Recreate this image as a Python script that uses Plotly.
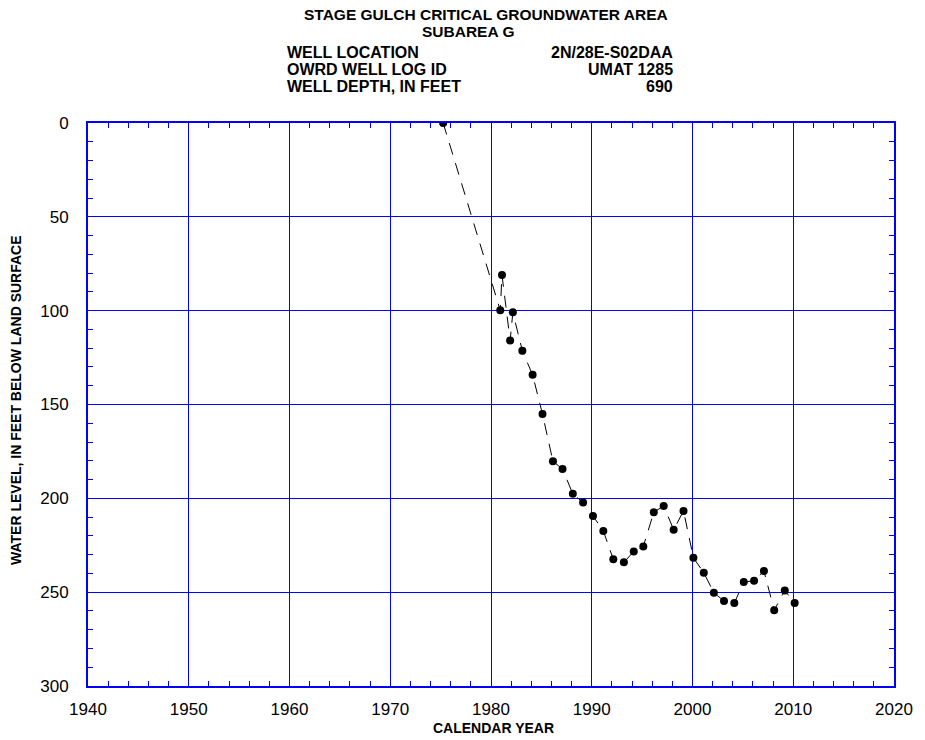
import plotly.graph_objects as go

# Data
years = [1975.25, 1980.92, 1981.09, 1981.90, 1982.17, 1983.11, 1984.13, 1985.11,
         1986.15, 1987.10, 1988.12, 1989.14, 1990.12, 1991.15, 1992.14, 1993.19,
         1994.17, 1995.12, 1996.16, 1997.14, 1998.13, 1999.11, 2000.09, 2001.12,
         2002.12, 2003.13, 2004.15, 2005.09, 2006.11, 2007.09, 2008.11, 2009.16,
         2010.14]
water_level = [0.0, 99.8, 81.0, 115.9, 100.9, 121.4, 134.2, 155.1,
               180.3, 184.4, 197.6, 202.2, 209.4, 217.4, 232.5, 234.1,
               228.3, 225.6, 207.4, 204.1, 216.7, 206.7, 231.7, 239.6,
               250.3, 254.7, 255.8, 244.6, 243.9, 238.7, 259.6, 249.1,
               255.8]

x_ticks = [1940, 1950, 1960, 1970, 1980, 1990, 2000, 2010, 2020]
y_ticks = [0, 50, 100, 150, 200, 250, 300]

title_main = "STAGE GULCH CRITICAL GROUNDWATER AREA"
title_sub = "SUBAREA G"
info_labels = ["WELL LOCATION", "OWRD WELL LOG ID", "WELL DEPTH, IN FEET"]
info_values = ["2N/28E-S02DAA", "UMAT 1285", "690"]
x_title = "CALENDAR YEAR"
y_title = "WATER LEVEL, IN FEET BELOW LAND SURFACE"

BLUE = "#0000ff"
FONT = "Liberation Sans, Arial, sans-serif"

fig = go.Figure()
fig.add_trace(go.Scatter(
    x=years, y=water_level, mode="lines+markers",
    line=dict(color="black", width=1, dash="12px,9px"),
    marker=dict(color="black", size=8),
    showlegend=False,
))

W, H = 925, 740
L, R, T, B = 88, 20, 123, 54
pw, ph = W - L - R, H - T - B

def px(x):
    return (x - L) / pw

def py(y):
    return (H - B - y) / ph

ann = []
ann.append(dict(text="<b>%s</b>" % title_main, x=px(491), y=py(14), xanchor="center", yanchor="middle", size=15.5))
ann.append(dict(text="<b>%s</b>" % title_sub, x=px(473), y=py(32), xanchor="center", yanchor="middle", size=15.5))
rows_y = [52.5, 69.5, 86.5]
for lab, val, yy in zip(info_labels, info_values, rows_y):
    ann.append(dict(text="<b>%s</b>" % lab, x=px(288), y=py(yy), xanchor="left", yanchor="middle", size=16))
    ann.append(dict(text="<b>%s</b>" % val, x=px(683), y=py(yy), xanchor="right", yanchor="middle", size=16))
ann.append(dict(text="<b>%s</b>" % x_title, x=px(499), y=py(728), xanchor="center", yanchor="middle", size=14))
ann.append(dict(text="<b>%s</b>" % y_title, x=px(15), y=py(400), xanchor="center", yanchor="middle",
                textangle=-90, size=14))
for a in ann:
    s = a.pop("size")
    a.update(xref="paper", yref="paper", showarrow=False,
             font=dict(family=FONT, size=s, color="black"))

axis_common = dict(
    showline=True, linecolor=BLUE, linewidth=2, mirror="allticks",
    showgrid=True, gridcolor=BLUE, gridwidth=1,
    ticks="inside", ticklen=10, tickcolor=BLUE, tickwidth=1,
    zeroline=False, ticklabeloverflow="allow",
    tickfont=dict(family=FONT, size=17, color="black"),
)

fig.update_layout(
    width=W, height=H,
    margin=dict(l=L, r=R, t=T, b=B),
    paper_bgcolor="white", plot_bgcolor="white",
    annotations=ann,
    xaxis=dict(
        range=[1940, 2020], tickvals=x_ticks,
        minor=dict(dtick=2, ticks="inside", ticklen=5, tickcolor=BLUE, showgrid=False),
        ticklabelstandoff=7,
        **axis_common,
    ),
    yaxis=dict(
        range=[300, 0], tickvals=y_ticks,
        minor=dict(dtick=10, ticks="inside", ticklen=5, tickcolor=BLUE, showgrid=False),
        ticklabelstandoff=14,
        **axis_common,
    ),
)

fig.write_html("out.html")
